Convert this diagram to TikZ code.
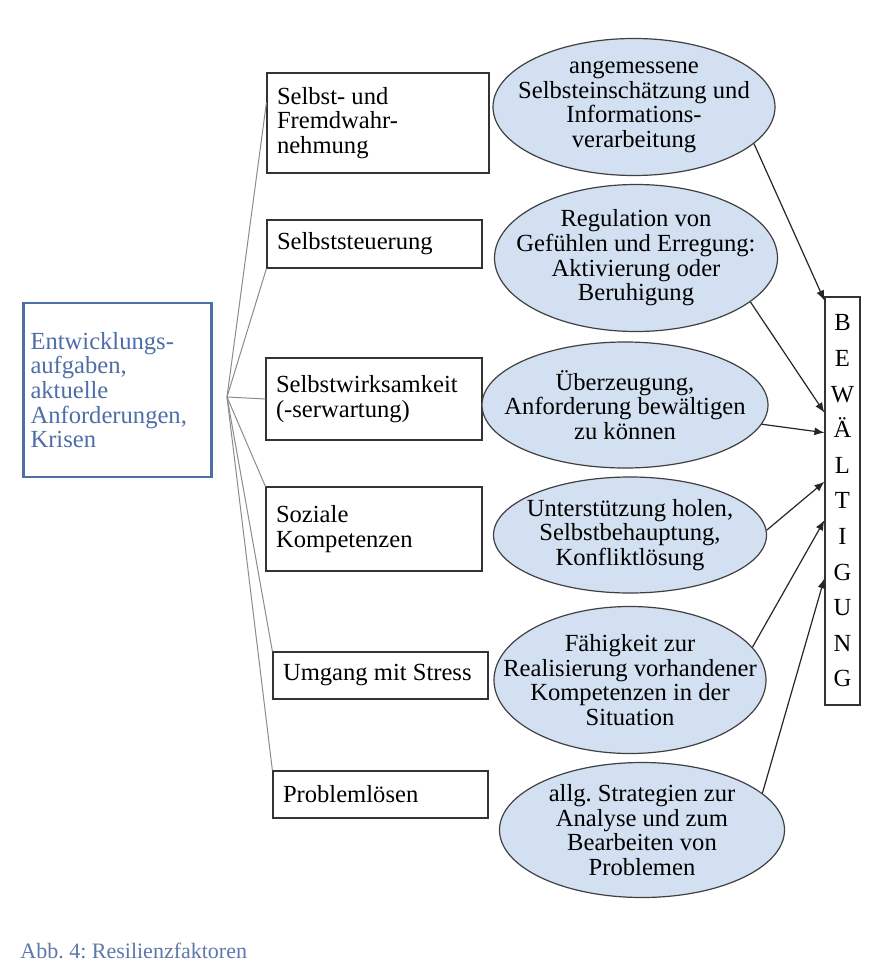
\documentclass[tikz,border=0pt]{standalone}
\usepackage{fontspec}
\setmainfont{Liberation Serif}
\usetikzlibrary{shapes.geometric}
\usetikzlibrary{arrows.meta}
\usetikzlibrary{calc}
\frenchspacing
\definecolor{ovalblue}{RGB}{210,224,241}
\definecolor{titleblue}{RGB}{78,110,168}
\definecolor{capblue}{RGB}{95,120,170}
\newcommand{\diagfont}{\fontsize{12.3}{12.3}\selectfont}
\tikzstyle{aufgabe} = [draw=titleblue, line width=1.1pt, text=titleblue, align=flush left, text width=87pt, inner xsep=3.5pt, minimum height=87pt, font=\diagfont]
\tikzstyle{faktor} = [draw=black!80, line width=0.6pt, align=flush left, inner xsep=5pt, inner ysep=0pt, font=\diagfont]
\tikzstyle{ressource} = [ellipse, draw=black!75, line width=0.6pt, fill=ovalblue, inner sep=0pt]
\tikzstyle{ovaltext} = [align=flush center, inner sep=0pt, font=\diagfont]
\tikzstyle{fan} = [draw=black!45, line width=0.5pt]
\tikzstyle{zufluss} = [draw=black!85, line width=0.6pt, -{Latex[length=5pt,width=4pt]}]

\begin{document}
\begin{tikzpicture}[x=0.5pt, y=-0.5pt]

		\useasboundingbox [fill=white] (0,0) rectangle (890,963);

		\node [aufgabe] (aufgaben) at (117.5,390) {Entwicklungs-\\aufgaben,\\aktuelle\\Anforderungen,\\Krisen};
		\coordinate (knoten) at (227,397);

		\node [faktor, text width=101pt, minimum height=50pt] (b1) at (378,123) {Selbst- und\\Fremdwahr-\\nehmung};
		\node [faktor, text width=97.5pt, minimum height=24pt] (b2) at (374.5,244) {Selbststeuerung};
		\node [faktor, text width=98pt, minimum height=41pt] (b3) at (374,399) {Selbstwirksamkeit\\(-serwartung)};
		\node [faktor, text width=98pt, minimum height=42pt] (b4) at (374,529) {Soziale\\Kompetenzen};
		\node [faktor, text width=97.5pt, minimum height=23.5pt] (b5) at (380.5,675.5) {Umgang mit Stress};
		\node [faktor, text width=97.5pt, minimum height=23.5pt] (b6) at (380.5,794.5) {Problemlösen};

		\draw [fan] (knoten) -- ($(b1.north west)!0.3!(b1.south west)$);
		\draw [fan] (knoten) -- (b2.south west);
		\draw [fan] (knoten) -- (b3.west);
		\draw [fan] (knoten) -- (b4.north west);
		\draw [fan] (knoten) -- (b5.north west);
		\draw [fan] (knoten) -- (b6.north west);

		\node [ressource, minimum width=141pt, minimum height=68.5pt] (e1) at (634,107) {};
		\node [ovaltext] (e1t) at (e1) {angemessene\\Selbsteinschätzung und\\Informations-\\verarbeitung};
		\node [ressource, minimum width=141.5pt, minimum height=73.5pt] (e2) at (636,258) {};
		\node [ovaltext] (e2t) at (e2) {Regulation von\\Gefühlen und Erregung:\\Aktivierung oder\\Beruhigung};
		\node [ressource, minimum width=143pt, minimum height=63pt] (e3) at (625,405) {};
		\node [ovaltext] (e3t) at (e3) {Überzeugung,\\Anforderung bewältigen\\zu können};
		\node [ressource, minimum width=136.5pt, minimum height=58pt] (e4) at (630,535) {};
		\node [ovaltext] (e4t) at (e4) {Unterstützung holen,\\Selbstbehauptung,\\Konfliktlösung};
		\node [ressource, minimum width=136pt, minimum height=73.5pt] (e5) at (630,680) {};
		\node [ovaltext] (e5t) at (e5) {Fähigkeit zur\\Realisierung vorhandener\\Kompetenzen in der\\Situation};
		\node [ressource, minimum width=142.5pt, minimum height=67.5pt] (e6) at (642,830) {};
		\node [ovaltext] (e6t) at (e6) {allg. Strategien zur\\Analyse und zum\\Bearbeiten von\\Problemen};

		\node [draw=black!80, line width=0.6pt, minimum width=17.5pt, minimum height=204pt, inner sep=0pt, align=center, font=\fontsize{12.3}{17.8}\selectfont] (bew) at (842.5,501) {B\\E\\W\\Ä\\L\\T\\I\\G\\U\\N\\G};

		\draw [zufluss] (e1.-17) -- ($(bew.north west)!0.01!(bew.south west)$);
		\draw [zufluss] (e2.-21) -- ($(bew.north west)!0.284!(bew.south west)$);
		\draw [zufluss] (e3.-8) -- ($(bew.north west)!0.333!(bew.south west)$);
		\draw [zufluss] (e4.2) -- ($(bew.north west)!0.453!(bew.south west)$);
		\draw [zufluss] (e5.15) -- ($(bew.north west)!0.547!(bew.south west)$);
		\draw [zufluss] (e6.17) -- ($(bew.north west)!0.689!(bew.south west)$);

		\node [anchor=west, inner sep=0pt, text=capblue, font=\fontsize{11}{13}\selectfont] (caption) at (20,951) {Abb. 4: Resilienzfaktoren};

	\end{tikzpicture}
\end{document}
